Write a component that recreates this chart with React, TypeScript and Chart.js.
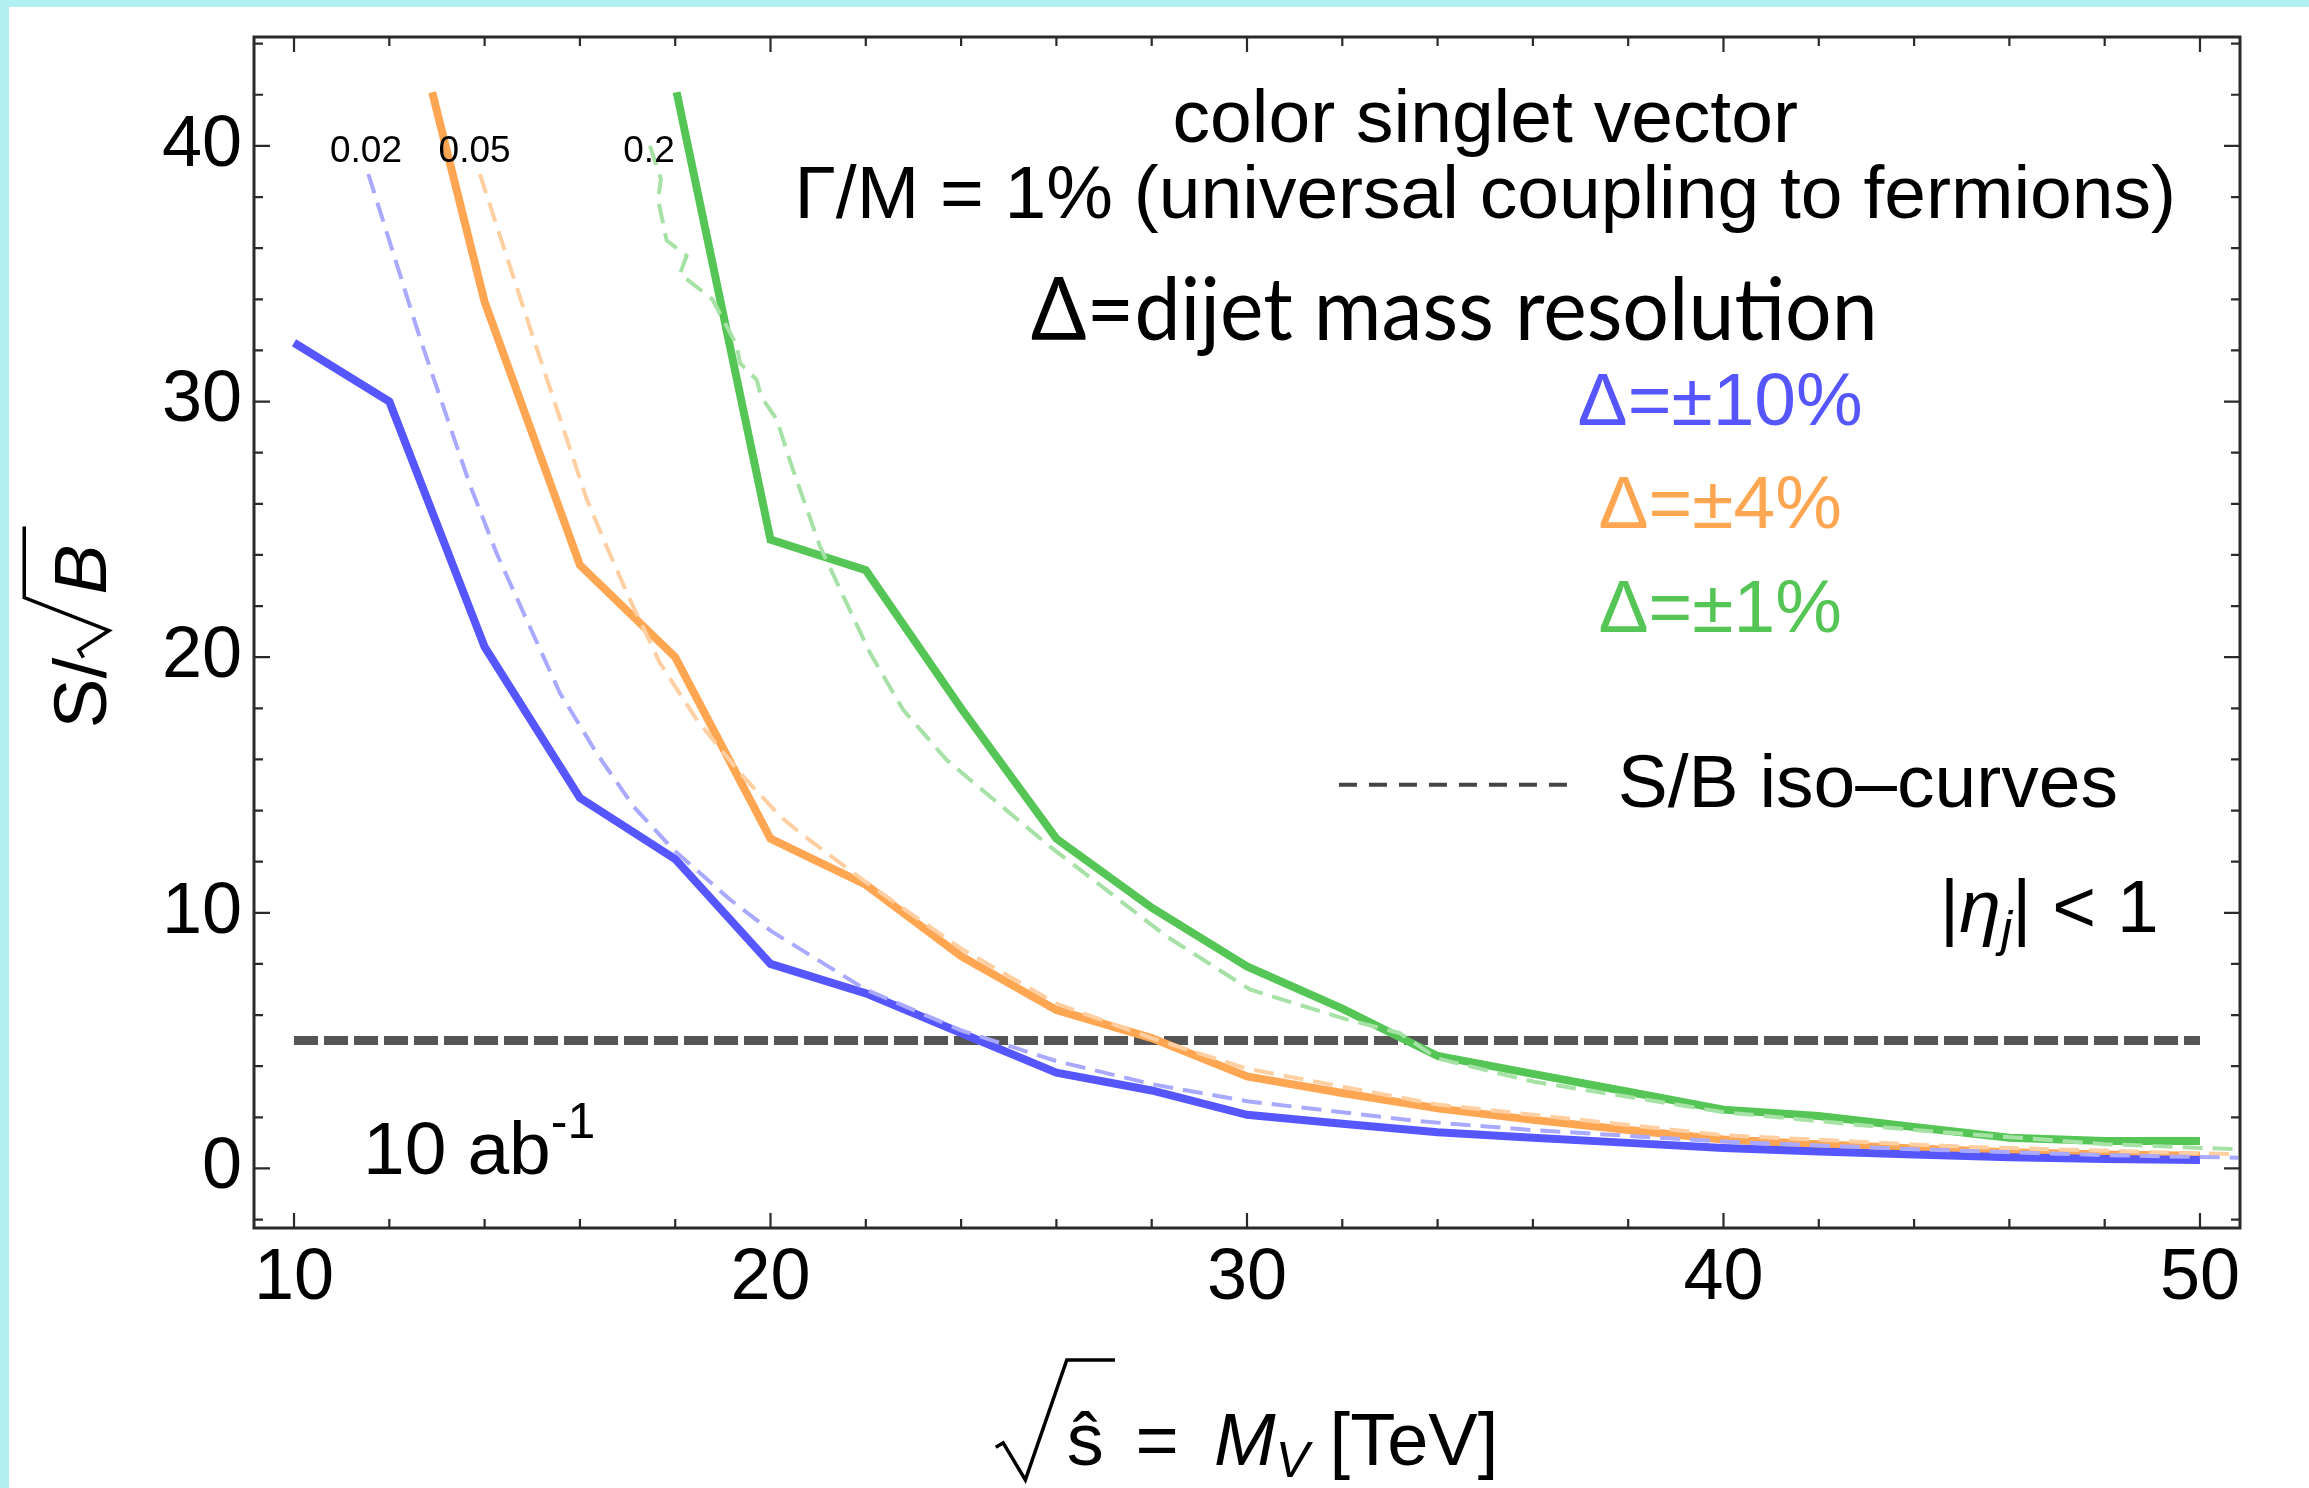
import React, { useEffect, useRef } from "react";
import { Chart, registerables } from "chart.js";

Chart.register(...registerables);

const SANS = '"Liberation Sans", Arial, Helvetica, sans-serif';
const GILL = 'Lato, "Noto Sans", "DejaVu Sans", sans-serif';

// ---------- axes ----------
const xRange = [9.16, 50.84];
const yRange = [-2.33, 44.26];
const xTickLabels = [10, 20, 30, 40, 50];
const yTickLabels = [0, 10, 20, 30, 40];
const minorStep = 2;

// ---------- solid curves: S/sqrt(B) vs M_V [TeV] ----------
const massRes10 = [10, 12, 14, 16, 18, 20, 22, 24, 26, 28, 30, 32, 34, 36, 38, 40, 42, 44, 46, 48, 50];
const snrRes10 = [32.3, 30.0, 20.4, 14.5, 12.1, 8.0, 6.85, 5.3, 3.75, 3.05, 2.1, 1.75, 1.42, 1.2, 1.0, 0.8, 0.66, 0.55, 0.44, 0.37, 0.33];

const massRes4 = [12.9, 14, 16, 18, 20, 22, 24, 26, 28, 30, 32, 34, 36, 38, 40, 42, 44, 46, 48, 50];
const snrRes4 = [42.1, 33.9, 23.6, 20.0, 12.9, 11.1, 8.3, 6.2, 5.1, 3.6, 2.95, 2.35, 1.9, 1.5, 1.13, 0.95, 0.78, 0.63, 0.55, 0.5];

const massRes1 = [18.03, 20, 22, 24, 26, 28, 30, 32, 34, 36, 38, 40, 42, 44, 46, 48, 50];
const snrRes1 = [42.1, 24.6, 23.4, 18.0, 12.9, 10.2, 7.9, 6.25, 4.4, 3.7, 3.0, 2.3, 2.05, 1.62, 1.2, 1.07, 1.07];

// ---------- S/B iso-curves ----------
const isoMass002 = [11.56, 12.64, 13.69, 14.25, 14.88, 15.58, 16.35, 17.12, 17.96, 19.15, 20, 22, 24, 26, 28, 30, 33.6, 36, 40, 44, 48, 50.8];
const isoSnr002 = [38.9, 32.5, 26.75, 24.07, 21.47, 18.6, 16.25, 14.17, 12.47, 10.52, 9.3, 7.0, 5.4, 4.2, 3.3, 2.63, 1.85, 1.5, 1.05, 0.75, 0.52, 0.42];

const isoMass005 = [13.9, 15.02, 16.14, 16.56, 17.05, 17.68, 18.45, 19.36, 20.2, 20.62, 22, 24, 26, 28, 30, 34, 40, 45, 50.8];
const isoSnr005 = [38.9, 32.5, 26.2, 24.33, 22.25, 19.77, 17.56, 15.47, 13.78, 13.13, 11.2, 8.6, 6.45, 5.1, 3.9, 2.5, 1.3, 0.85, 0.55];

const isoMass02 = [17.47, 17.7, 17.64, 17.82, 18.24, 18.1, 18.78, 19.29, 19.36, 19.71, 19.8, 20.13, 20.44, 21.04, 21.53, 22.09, 22.78, 23.69, 24.6, 25.86, 28.31, 30.06, 32.09, 33.2, 34, 36, 40, 44, 48, 50.8];
const isoSnr02 = [40.0, 38.7, 37.9, 36.3, 35.7, 35.0, 34.0, 32.2, 31.5, 30.85, 30.2, 29.3, 27.5, 24.33, 22.38, 20.16, 17.95, 15.99, 14.56, 12.6, 9.08, 7.0, 5.83, 5.3, 4.3, 3.4, 2.2, 1.5, 0.95, 0.75];

const isoLabels = ["0.02", "0.05", "0.2"];
const isoLabelMass = [11.51, 13.79, 17.45];

// ---------- 5 sigma line ----------
const discoveryMass = [10, 50];
const discoveryLevel = [5, 5];

// ---------- text ----------
const resolutionLabels = ["Δ=±10%", "Δ=±4%", "Δ=±1%"];
const titleLines = ["color singlet vector", "Γ/M = 1% (universal coupling to fermions)"];
const resolutionTitle = "Δ=dijet mass resolution";
const isoLegend = "S/B iso–curves";

const C_BLUE = "#5656ff";
const C_ORANGE = "#ffa653";
const C_GREEN = "#55c655";
const C_BLUE_L = "#a9a9ff";
const C_ORANGE_L = "#ffcfa2";
const C_GREEN_L = "#a6e2a6";

const pts = (xs: number[], ys: number[]) => xs.map((x, i) => ({ x, y: ys[i] }));

const decorPlugin = {
  id: "decor",
  beforeDraw(chart: any) {
    const { ctx, width, height } = chart;
    ctx.save();
    ctx.fillStyle = "#ffffff";
    ctx.fillRect(0, 0, width, height);
    ctx.fillStyle = "#b0f0f0";
    ctx.fillRect(0, 0, width, 7);
    ctx.fillRect(0, 0, 9, height);
    ctx.restore();
  },
  afterDraw(chart: any) {
    const { ctx, chartArea: ca } = chart;
    const xs = chart.scales.x;
    const ys = chart.scales.y;
    const X = (v: number) => xs.getPixelForValue(v);
    const Y = (v: number) => ys.getPixelForValue(v);
    ctx.save();

    // frame
    ctx.strokeStyle = "#2a2a2a";
    ctx.lineWidth = 3;
    ctx.strokeRect(ca.left, ca.top, ca.right - ca.left, ca.bottom - ca.top);

    // inward ticks on all four sides
    ctx.lineWidth = 2.2;
    ctx.beginPath();
    xs.ticks.forEach((t: any) => {
      const p = X(t.value);
      const len = xTickLabels.includes(t.value) ? 15 : 9;
      ctx.moveTo(p, ca.bottom);
      ctx.lineTo(p, ca.bottom - len);
      ctx.moveTo(p, ca.top);
      ctx.lineTo(p, ca.top + len);
    });
    ys.ticks.forEach((t: any) => {
      const p = Y(t.value);
      const len = yTickLabels.includes(t.value) ? 16 : 9;
      ctx.moveTo(ca.left, p);
      ctx.lineTo(ca.left + len, p);
      ctx.moveTo(ca.right, p);
      ctx.lineTo(ca.right - len, p);
    });
    ctx.stroke();

    ctx.fillStyle = "#000";
    ctx.textBaseline = "alphabetic";

    // iso-curve labels
    ctx.font = `37px ${SANS}`;
    ctx.textAlign = "center";
    isoLabels.forEach((s, i) => ctx.fillText(s, X(isoLabelMass[i]), Y(39.37)));

    // headline text
    ctx.font = `75px ${SANS}`;
    ctx.fillText(titleLines[0], X(35.0), Y(40.16));
    ctx.fillText(titleLines[1], X(35.0), Y(37.18));

    // Δ = dijet mass resolution (Gill-like font, fitted width)
    ctx.font = `88px ${GILL}`;
    {
      const w = ctx.measureText(resolutionTitle).width;
      const target = 847;
      const sx = target / w;
      ctx.save();
      ctx.translate(X(34.35), Y(32.41));
      ctx.scale(sx, 1);
      ctx.fillText(resolutionTitle, 0, 0);
      ctx.restore();
    }

    // resolution labels
    ctx.font = `75px ${SANS}`;
    const resColors = [C_BLUE, C_ORANGE, C_GREEN];
    const resY = [29.09, 25.06, 21.0];
    resolutionLabels.forEach((s, i) => {
      ctx.fillStyle = resColors[i];
      ctx.fillText(s, X(39.93), Y(resY[i]));
    });

    // iso legend
    ctx.strokeStyle = "#444";
    ctx.lineWidth = 4;
    ctx.setLineDash([18, 12]);
    ctx.beginPath();
    ctx.moveTo(X(31.93), Y(15.01));
    ctx.lineTo(X(36.77), Y(15.01));
    ctx.stroke();
    ctx.setLineDash([]);
    ctx.fillStyle = "#000";
    ctx.textAlign = "left";
    ctx.font = `75px ${SANS}`;
    ctx.fillText(isoLegend, X(37.78), Y(14.12));

    // |eta_j| < 1
    {
      let cx = X(44.54);
      const b = Y(9.23);
      const draw = (s: string, font: string, dy = 0) => {
        ctx.font = font;
        ctx.fillText(s, cx, b + dy);
        cx += ctx.measureText(s).width;
      };
      draw("|", `75px ${SANS}`);
      draw("η", `italic 75px ${SANS}`);
      draw("j", `italic 50px ${SANS}`, 14);
      draw("|", `75px ${SANS}`);
      draw(" < 1", `75px ${SANS}`);
    }

    // 10 ab^-1
    {
      let cx = X(11.45);
      const b = Y(-0.23);
      ctx.font = `75px ${SANS}`;
      ctx.fillText("10 ab", cx, b);
      cx += ctx.measureText("10 ab").width;
      ctx.font = `50px ${SANS}`;
      ctx.fillText("-1", cx, b - 36);
    }

    // ---- x-axis title: sqrt(s-hat) = M_V [TeV]
    {
      const em = 74;
      const b = 1465;
      ctx.font = `${em}px ${SANS}`;
      const wS = ctx.measureText("ŝ").width;
      const wEq = ctx.measureText(" = ").width;
      const wT = ctx.measureText(" [TeV]").width;
      ctx.font = `italic ${em}px ${SANS}`;
      const wM = ctx.measureText("M").width;
      ctx.font = `italic 50px ${SANS}`;
      const wV = ctx.measureText("V").width;
      const radW = 0.96 * em;
      const vinExt = 0.15 * em;
      const gapEq = 0.2 * em;
      const total = radW + wS + vinExt + wEq + gapEq + wM + wV + wT;
      const x0 = (ca.left + ca.right) / 2 - total / 2;
      ctx.strokeStyle = "#000";
      ctx.lineWidth = 3.5;
      ctx.lineJoin = "miter";
      ctx.beginPath();
      ctx.moveTo(x0, b - 0.24 * em);
      ctx.lineTo(x0 + 0.1 * em, b - 0.3 * em);
      ctx.lineTo(x0 + 0.4 * em, b + 0.2 * em);
      ctx.lineTo(x0 + radW, b - 1.42 * em);
      ctx.lineTo(x0 + radW + wS + vinExt, b - 1.42 * em);
      ctx.stroke();
      let cx = x0 + radW;
      ctx.font = `${em}px ${SANS}`;
      ctx.fillText("ŝ", cx, b);
      cx += wS + vinExt;
      ctx.fillText(" = ", cx, b);
      cx += wEq + gapEq;
      ctx.font = `italic ${em}px ${SANS}`;
      ctx.fillText("M", cx, b);
      cx += wM;
      ctx.font = `italic 50px ${SANS}`;
      ctx.fillText("V", cx, b + 12);
      cx += wV;
      ctx.font = `${em}px ${SANS}`;
      ctx.fillText(" [TeV]", cx, b);
    }

    // ---- y-axis title: S / sqrt(B)
    {
      const em = 75;
      ctx.save();
      ctx.translate(106, (ca.top + ca.bottom) / 2 - 5);
      ctx.rotate(-Math.PI / 2);
      ctx.font = `${em}px ${SANS}`;
      const wSl = ctx.measureText("S/").width;
      ctx.font = `italic ${em}px ${SANS}`;
      const wB = ctx.measureText("B").width;
      const radW = 0.84 * em;
      const ext = 0.24 * em;
      const total = wSl + radW + wB + ext;
      let x0 = -total / 2;
      ctx.font = `${em}px ${SANS}`;
      ctx.fillText("S/", x0, 0);
      x0 += wSl;
      ctx.strokeStyle = "#000";
      ctx.lineWidth = 3.5;
      ctx.beginPath();
      ctx.moveTo(x0, -0.3 * em);
      ctx.lineTo(x0 + 0.1 * em, -0.36 * em);
      ctx.lineTo(x0 + 0.36 * em, 0.04 * em);
      ctx.lineTo(x0 + 0.8 * em, -1.09 * em);
      ctx.lineTo(x0 + radW + wB + ext, -1.09 * em);
      ctx.stroke();
      ctx.font = `italic ${em}px ${SANS}`;
      ctx.fillText("B", x0 + radW, 0);
      ctx.restore();
    }

    ctx.restore();
  },
};

export default function App() {
  const ref = useRef<HTMLCanvasElement>(null);
  useEffect(() => {
    const canvas = ref.current;
    if (!canvas) return;
    const solid = (xs: number[], ys: number[], color: string) => ({
      data: pts(xs, ys),
      borderColor: color,
      borderWidth: 8,
      pointRadius: 0,
      tension: 0,
      fill: false,
      borderCapStyle: "butt",
      borderJoinStyle: "miter",
    });
    const dashed = (xs: number[], ys: number[], color: string) => ({
      data: pts(xs, ys),
      borderColor: color,
      borderWidth: 4,
      borderDash: [20, 10],
      pointRadius: 0,
      tension: 0,
      fill: false,
      borderCapStyle: "butt",
    });
    const zeroPad = (s: any) => {
      s.paddingTop = 0;
      s.paddingBottom = 0;
      s.paddingLeft = 0;
      s.paddingRight = 0;
    };
    const chart = new Chart(canvas, {
      type: "line",
      data: {
        datasets: [
          { label: "S/B=0.02", ...dashed(isoMass002, isoSnr002, C_BLUE_L) },
          { label: "S/B=0.05", ...dashed(isoMass005, isoSnr005, C_ORANGE_L) },
          { label: "S/B=0.2", ...dashed(isoMass02, isoSnr02, C_GREEN_L) },
          { label: "Δ=±10%", ...solid(massRes10, snrRes10, C_BLUE) },
          { label: "Δ=±4%", ...solid(massRes4, snrRes4, C_ORANGE) },
          { label: "Δ=±1%", ...solid(massRes1, snrRes1, C_GREEN) },
          {
            label: "5σ",
            data: pts(discoveryMass, discoveryLevel),
            borderColor: "#555555",
            borderWidth: 9,
            borderDash: [24, 6],
            pointRadius: 0,
            fill: false,
          },
        ] as any,
      },
      options: {
        responsive: false,
        animation: false,
        devicePixelRatio: 1,
        layout: { autoPadding: false, padding: { left: 0, top: 37, right: 69, bottom: 0 } },
        plugins: { legend: { display: false }, tooltip: { enabled: false } },
        scales: {
          x: {
            type: "linear",
            min: xRange[0],
            max: xRange[1],
            afterFit: (s: any) => {
              s.height = 260;
              zeroPad(s);
            },
            grid: { display: false, drawTicks: false },
            border: { display: false },
            ticks: {
              stepSize: minorStep,
              includeBounds: false,
              autoSkip: false,
              maxRotation: 0,
              minRotation: 0,
              padding: 8,
              color: "#000",
              font: { family: SANS, size: 72 },
              callback: (v: any) => (xTickLabels.includes(Number(v)) ? String(v) : ""),
            },
          },
          y: {
            type: "linear",
            min: yRange[0],
            max: yRange[1],
            afterFit: (s: any) => {
              s.width = 254;
              zeroPad(s);
            },
            grid: { display: false, drawTicks: false },
            border: { display: false },
            ticks: {
              stepSize: minorStep,
              includeBounds: false,
              autoSkip: false,
              padding: 12,
              color: "#000",
              font: { family: SANS, size: 72 },
              callback: (v: any) => (yTickLabels.includes(Number(v)) ? String(v) : ""),
            },
          },
        },
      } as any,
      plugins: [decorPlugin as any],
    });
    return () => chart.destroy();
  }, []);
  return (
    <div style={{ position: "fixed", left: 0, top: 0, width: 2309, height: 1488, background: "#fff" }}>
      <canvas ref={ref} width={2309} height={1488} style={{ width: 2309, height: 1488, display: "block" }} />
    </div>
  );
}
